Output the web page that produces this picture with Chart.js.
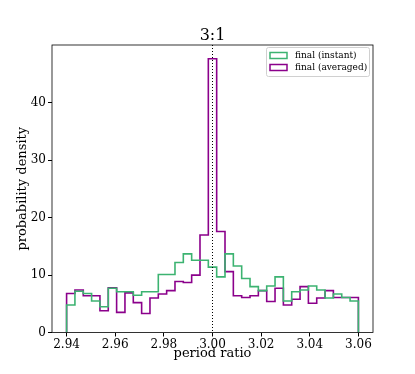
<!DOCTYPE html>
<html>
<head>
<meta charset="utf-8">
<script src="https://cdn.jsdelivr.net/npm/chart.js@4/dist/chart.umd.min.js"></script>
<style>
html,body{margin:0;padding:0;background:#fff;}
#wrap{width:415px;height:374px;position:relative;}
</style>
</head>
<body>
<div id="wrap"><canvas id="c" width="415" height="374"></canvas></div>
<script>
// Histogram range and bin count
const rangeLo = 2.94;
const rangeHi = 3.06;
const nBins = 35;
// Densities per bin
const instantVals = [4.8, 7.2, 6.8, 5.5, 4.5, 7.7, 7.1, 7.1, 6.5, 7.1, 7.1, 10.1, 10.1, 12.2, 13.7, 12.6, 12.6, 11.4, 9.7, 13.7, 11.6, 9.4, 8.0, 7.3, 8.1, 9.7, 5.5, 7.1, 7.4, 8.1, 7.4, 6.0, 6.7, 6.1, 5.5];
const averagedVals = [6.8, 7.4, 6.4, 6.4, 3.8, 7.8, 3.5, 6.9, 5.2, 3.3, 6.0, 6.7, 7.3, 8.9, 8.7, 10.0, 17.0, 47.7, 17.6, 10.6, 6.4, 6.1, 6.4, 7.3, 5.4, 7.7, 4.8, 5.8, 8.0, 5.1, 6.0, 7.3, 6.1, 6.1, 6.1];
const xTicks = [2.94, 2.96, 2.98, 3.00, 3.02, 3.04, 3.06];
const yTicks = [0, 10, 20, 30, 40];
const markerX = 3.00;
const titleText = '3:1';
const xLabel = 'period ratio';
const yLabel = 'probability density';
const seriesLabels = ['final (instant)', 'final (averaged)'];

// step outline: each bin value placed at its left edge, horizontal run first
function stepPoints(vals) {
  const w = (rangeHi - rangeLo) / nBins;
  const pts = [{x: rangeLo, y: 0}];
  vals.forEach((v, i) => pts.push({x: rangeLo + i * w, y: v}));
  pts.push({x: rangeHi, y: vals[vals.length - 1]});
  pts.push({x: rangeHi, y: 0});
  return pts;
}

const SERIF = "'DejaVu Serif', serif";
const green = '#3cb371';
const purple = '#8b008b';

const decor = {
  id: 'decor',
  afterDraw(chart) {
    const {ctx, chartArea: a, scales} = chart;
    ctx.save();
    // dotted marker line
    const xp = scales.x.getPixelForValue(markerX);
    ctx.strokeStyle = '#000';
    ctx.lineWidth = 1;
    ctx.setLineDash([1, 2]);
    ctx.beginPath();
    ctx.moveTo(xp, a.top);
    ctx.lineTo(xp, a.bottom);
    ctx.stroke();
    ctx.setLineDash([]);
    // frame
    ctx.strokeStyle = '#000';
    ctx.lineWidth = 0.8;
    ctx.strokeRect(a.left, a.top, a.right - a.left, a.bottom - a.top);
    // title
    ctx.fillStyle = '#000';
    ctx.font = '16px ' + SERIF;
    ctx.textAlign = 'center';
    ctx.textBaseline = 'alphabetic';
    ctx.fillText(titleText, (a.left + a.right) / 2, a.top - 5);
    // x label
    ctx.font = '13px ' + SERIF;
    ctx.textBaseline = 'middle';
    ctx.fillText(xLabel, (a.left + a.right) / 2, 354);
    // y label
    ctx.save();
    ctx.translate(23, (a.top + a.bottom) / 2);
    ctx.rotate(-Math.PI / 2);
    ctx.fillText(yLabel, 0, 0);
    ctx.restore();
    // legend
    const lx = 266, ly = 47, lw = 103, lh = 29;
    ctx.fillStyle = 'rgba(255,255,255,0.8)';
    ctx.strokeStyle = '#d0d0d0';
    ctx.lineWidth = 1;
    ctx.beginPath();
    ctx.roundRect(lx + 0.5, ly + 0.5, lw, lh, 2);
    ctx.fill();
    ctx.stroke();
    ctx.font = '9px ' + SERIF;
    ctx.textAlign = 'left';
    ctx.textBaseline = 'middle';
    chart.data.datasets.forEach((ds, i) => {
      const yy = ly + 8.5 + i * 12;
      ctx.strokeStyle = ds.borderColor;
      ctx.lineWidth = 1.5;
      ctx.strokeRect(lx + 4, yy - 3, 17, 6);
      ctx.fillStyle = '#000';
      ctx.fillText(ds.label, lx + 29, yy);
    });
    ctx.restore();
  }
};

new Chart(document.getElementById('c'), {
  type: 'line',
  data: {
    datasets: [
      {label: seriesLabels[0], data: stepPoints(instantVals), stepped: 'before', borderColor: green, borderWidth: 1.6, pointRadius: 0, fill: false},
      {label: seriesLabels[1], data: stepPoints(averagedVals), stepped: 'before', borderColor: purple, borderWidth: 1.6, pointRadius: 0, fill: false}
    ]
  },
  options: {
    responsive: false,
    animation: false,
    layout: {padding: {left: 0, right: 42, top: 45, bottom: 0}},
    plugins: {legend: {display: false}, title: {display: false}, tooltip: {enabled: false}},
    scales: {
      x: {
        type: 'linear',
        min: 2.934, max: 3.066,
        afterBuildTicks: s => { s.ticks = xTicks.map(v => ({value: v})); },
        afterFit: s => { s.height = 41.5; },
        grid: {display: true, drawOnChartArea: false, drawTicks: true, tickLength: 4, color: '#000'},
        border: {display: false},
        ticks: {color: '#000', font: {family: SERIF, size: 12}, padding: 1, maxRotation: 0, autoSkip: false,
                callback: v => v.toFixed(2)}
      },
      y: {
        min: 0, max: 50.1,
        afterBuildTicks: s => { s.ticks = yTicks.map(v => ({value: v})); },
        afterFit: s => { s.width = 52; },
        grid: {display: true, drawOnChartArea: false, drawTicks: true, tickLength: 4, color: '#000'},
        border: {display: false},
        ticks: {color: '#000', font: {family: SERIF, size: 12}, padding: 2}
      }
    }
  },
  plugins: [decor]
});
</script>
</body>
</html>
